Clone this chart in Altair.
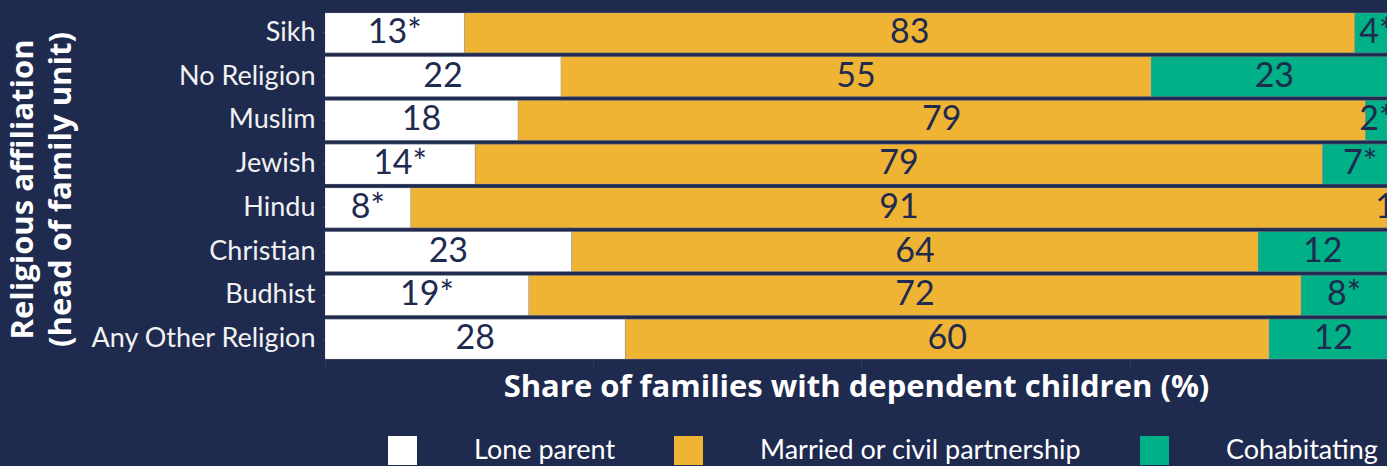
import altair as alt
import pandas as pd

religions = ["Sikh", "No Religion", "Muslim", "Jewish", "Hindu", "Christian", "Budhist", "Any Other Religion"]
lone = [13, 22, 18, 14, 8, 23, 19, 28]
married = [83, 55, 79, 79, 91, 64, 72, 60]
cohab = [4, 23, 2, 7, 1, 12, 8, 12]
lone_flag = [True, False, False, True, True, False, True, False]
married_flag = [False] * 8
cohab_flag = [True, False, True, True, True, False, True, False]
groups = ["Lone parent", "Married or civil partnership", "Cohabitating"]
colors = ["#ffffff", "#f0b435", "#00b087"]
x_ticks = [0, 25, 50, 75]

BG = "#1f2a4f"

rows = []
for i, r in enumerate(religions):
    for g, (vals, flags) in enumerate(zip([lone, married, cohab], [lone_flag, married_flag, cohab_flag])):
        rows.append({
            "religion": r,
            "group": groups[g],
            "order": g,
            "value": vals[i],
            "label": f"{vals[i]}{'*' if flags[i] else ''}",
        })
df = pd.DataFrame(rows)

base = alt.Chart(df).transform_stack(
    stack="value", groupby=["religion"], as_=["start", "end"], sort=[alt.SortField("order")]
).transform_calculate(mid="(datum.start + datum.end) / 2")

xscale = alt.Scale(domain=[0, 99], nice=False, zero=True)
yscale = alt.Scale(paddingInner=0.086, paddingOuter=0.043)

bars = base.mark_bar(clip=True, stroke="#9a9fae", strokeWidth=0.6, strokeOpacity=0.6).encode(
    x=alt.X("start:Q", scale=xscale, axis=alt.Axis(
        values=x_ticks, labels=False, domain=False, grid=False, ticks=True,
        tickColor="#3a3f4f", tickSize=6,
        title="Share of families with dependent children (%)",
        titleFont="Open Sans", titleFontSize=31, titleFontWeight="bold", titleColor="#ffffff",
        titlePadding=5)),
    x2="end:Q",
    y=alt.Y("religion:N", sort=religions, scale=yscale, axis=alt.Axis(
        domain=False, grid=False, ticks=True, tickColor="#3a3f4f", tickSize=4,
        labelFont="Lato", labelFontSize=27, labelColor="#f2f2f2", labelPadding=6, labelLimit=400,
        title=["Religious affiliation", "(head of family unit)"],
        titleFont="Open Sans", titleFontSize=31, titleFontWeight="bold", titleColor="#ffffff",
        titleLineHeight=38, titleAngle=270, titleAlign="center", titleBaseline="top",
        titleX=-317, titleY=178)),
    color=alt.Color("group:N", scale=alt.Scale(domain=groups, range=colors), legend=alt.Legend(
        orient="none", legendX=63, legendY=425, direction="horizontal", title=None,
        symbolType="square", symbolSize=841, symbolStrokeWidth=0, symbolOpacity=1,
        labelFont="Lato", labelFontSize=27, labelColor="#ffffff", labelLimit=600,
        labelOffset=57, columnPadding=58, padding=0)),
    order=alt.Order("order:Q"),
)

text = base.mark_text(clip=True, font="Lato", fontSize=34, color=BG, baseline="middle").encode(
    x=alt.X("mid:Q", scale=xscale),
    y=alt.Y("religion:N", sort=religions, scale=yscale),
    text="label:N",
)

chart = (bars + text).properties(
    width=1062, height=350, background=BG,
    padding={"left": 325, "top": 11, "right": 0, "bottom": 105},
    autosize=alt.AutoSizeParams(type="none"),
).configure_view(strokeWidth=0)

chart.save("out.html", embed_options={"renderer": "svg", "actions": False})
